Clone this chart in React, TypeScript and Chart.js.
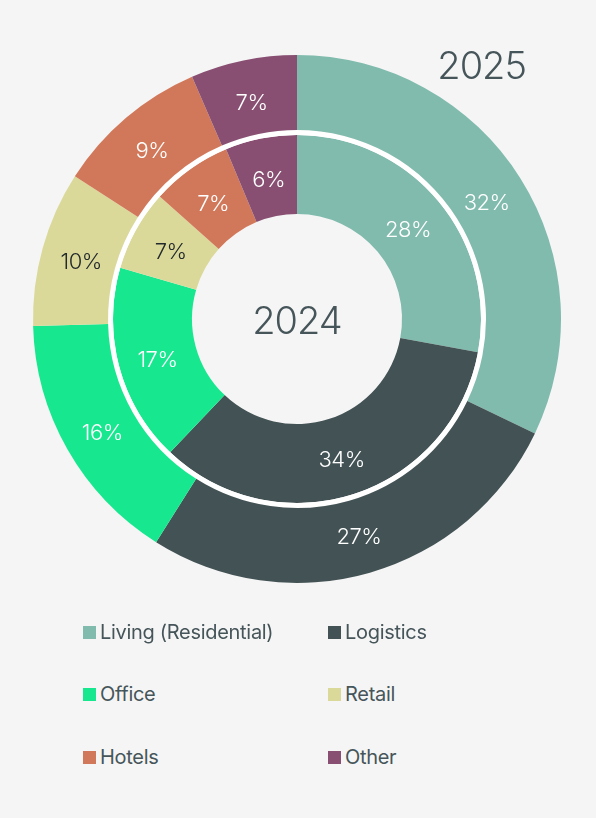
import React, { useEffect, useRef } from "react";
import { Chart, registerables } from "chart.js";

Chart.register(...registerables);

const categories = ["Living (Residential)", "Logistics", "Office", "Retail", "Hotels", "Other"];
const colors = ["#80bbad", "#435254", "#17e88f", "#dbd99a", "#d2785a", "#884f72"];
const labelColors = ["#ffffff", "#ffffff", "#ffffff", "#222a2c", "#ffffff", "#ffffff"];
const values2025 = [32.1, 26.8, 15.6, 9.5, 9.4, 6.5];
const values2024 = [27.9, 34.2, 17.4, 7.1, 7.1, 6.3];
const innerYear = "2024";
const outerYear = "2025";

const FONT = "Inter, 'Noto Sans', sans-serif";
const TEXT = "#46555a";

const labelPlugin = {
  id: "sliceLabels",
  afterDatasetsDraw(chart: any) {
    const ctx = chart.ctx;
    ctx.save();
    ctx.textAlign = "center";
    ctx.textBaseline = "middle";
    ctx.font = `300 22px ${FONT}`;
    (ctx as any).letterSpacing = "-0.5px";
    [0, 2].forEach((di) => {
      const meta = chart.getDatasetMeta(di);
      meta.data.forEach((arc: any, i: number) => {
        const { x, y, startAngle, endAngle, innerRadius, outerRadius } = arc.getProps(
          ["x", "y", "startAngle", "endAngle", "innerRadius", "outerRadius"],
          true
        );
        const a = (startAngle + endAngle) / 2;
        const r = (innerRadius + outerRadius) / 2 - (di === 0 ? 2.5 : 0);
        const v = chart.data.datasets[di].data[i] as number;
        ctx.fillStyle = labelColors[i];
        ctx.fillText(`${Math.round(v)}%`, x + Math.cos(a) * r, y + Math.sin(a) * r + 3.5);
      });
    });
    const m = chart.getDatasetMeta(2).data[0] as any;
    ctx.fillStyle = TEXT;
    ctx.font = `300 38px ${FONT}`;
    (ctx as any).letterSpacing = "-1px";
    ctx.fillText(innerYear, m.x, m.y + 4);
    ctx.restore();
  },
};

export default function App() {
  const ref = useRef<HTMLCanvasElement>(null);
  useEffect(() => {
    document.body.style.margin = "0";
    const chart = new Chart(ref.current!, {
      type: "doughnut",
      data: {
        labels: categories,
        datasets: [
          { label: outerYear, data: values2025, backgroundColor: colors, borderWidth: 0, weight: 75 },
          { label: "gap", data: [1], backgroundColor: ["#ffffff"], borderWidth: 0, weight: 5 },
          { label: innerYear, data: values2024, backgroundColor: colors, borderWidth: 0, weight: 79 },
        ],
      },
      options: {
        responsive: false,
        animation: false,
        cutout: 105,
        layout: { padding: { top: 55, bottom: 57, left: 33, right: 35 } },
        plugins: { legend: { display: false }, tooltip: { enabled: false } },
      },
      plugins: [labelPlugin],
    });
    return () => chart.destroy();
  }, []);

  const legendPos = [
    [83, 632],
    [328, 632],
    [83, 694],
    [328, 694],
    [83, 757],
    [328, 757],
  ];

  return (
    <div style={{ position: "relative", width: 596, height: 818, background: "#f5f5f5", fontFamily: FONT }}>
      <canvas ref={ref} width={596} height={640} style={{ position: "absolute", left: 0, top: 0 }} />
      <div
        style={{
          position: "absolute",
          right: 70,
          top: 44,
          fontSize: 38,
          fontWeight: 300,
          letterSpacing: "-1px",
          color: TEXT,
          lineHeight: "42px",
        }}
      >
        {outerYear}
      </div>
      {categories.map((c, i) => (
        <div
          key={c}
          style={{
            position: "absolute",
            left: legendPos[i][0],
            top: legendPos[i][1] - 14,
            height: 28,
            display: "flex",
            alignItems: "center",
            fontSize: 20,
            letterSpacing: "-0.3px",
            color: TEXT,
          }}
        >
          <span style={{ width: 13, height: 13, background: colors[i], marginRight: 4, display: "inline-block" }} />
          <span>{c}</span>
        </div>
      ))}
    </div>
  );
}
